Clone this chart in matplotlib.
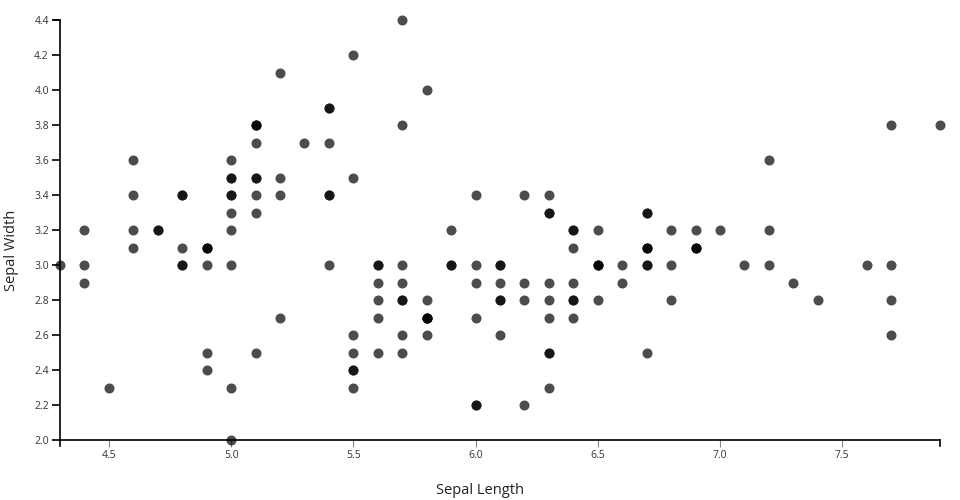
import matplotlib
matplotlib.use("Agg")
import matplotlib.pyplot as plt

plt.rcParams['font.family'] = ['Open Sans', 'DejaVu Sans']

# iris: sepal length / sepal width
sepal_length = [
    5.1, 4.9, 4.7, 4.6, 5.0, 5.4, 4.6, 5.0, 4.4, 4.9, 5.4, 4.8, 4.8, 4.3, 5.8, 5.7, 5.4, 5.1, 5.7, 5.1,
    5.4, 5.1, 4.6, 5.1, 4.8, 5.0, 5.0, 5.2, 5.2, 4.7, 4.8, 5.4, 5.2, 5.5, 4.9, 5.0, 5.5, 4.9, 4.4, 5.1,
    5.0, 4.5, 4.4, 5.0, 5.1, 4.8, 5.1, 4.6, 5.3, 5.0,
    7.0, 6.4, 6.9, 5.5, 6.5, 5.7, 6.3, 4.9, 6.6, 5.2, 5.0, 5.9, 6.0, 6.1, 5.6, 6.7, 5.6, 5.8, 6.2, 5.6,
    5.9, 6.1, 6.3, 6.1, 6.4, 6.6, 6.8, 6.7, 6.0, 5.7, 5.5, 5.5, 5.8, 6.0, 5.4, 6.0, 6.7, 6.3, 5.6, 5.5,
    5.5, 6.1, 5.8, 5.0, 5.6, 5.7, 5.7, 6.2, 5.1, 5.7,
    6.3, 5.8, 7.1, 6.3, 6.5, 7.6, 4.9, 7.3, 6.7, 7.2, 6.5, 6.4, 6.8, 5.7, 5.8, 6.4, 6.5, 7.7, 7.7, 6.0,
    6.9, 5.6, 7.7, 6.3, 6.7, 7.2, 6.2, 6.1, 6.4, 7.2, 7.4, 7.9, 6.4, 6.3, 6.1, 7.7, 6.3, 6.4, 6.0, 6.9,
    6.7, 6.9, 5.8, 6.8, 6.7, 6.7, 6.3, 6.5, 6.2, 5.9,
]
sepal_width = [
    3.5, 3.0, 3.2, 3.1, 3.6, 3.9, 3.4, 3.4, 2.9, 3.1, 3.7, 3.4, 3.0, 3.0, 4.0, 4.4, 3.9, 3.5, 3.8, 3.8,
    3.4, 3.7, 3.6, 3.3, 3.4, 3.0, 3.4, 3.5, 3.4, 3.2, 3.1, 3.4, 4.1, 4.2, 3.1, 3.2, 3.5, 3.1, 3.0, 3.4,
    3.5, 2.3, 3.2, 3.5, 3.8, 3.0, 3.8, 3.2, 3.7, 3.3,
    3.2, 3.2, 3.1, 2.3, 2.8, 2.8, 3.3, 2.4, 2.9, 2.7, 2.0, 3.0, 2.2, 2.9, 2.9, 3.1, 3.0, 2.7, 2.2, 2.5,
    3.2, 2.8, 2.5, 2.8, 2.9, 3.0, 2.8, 3.0, 2.9, 2.6, 2.4, 2.4, 2.7, 2.7, 3.0, 3.4, 3.1, 2.3, 3.0, 2.5,
    2.6, 3.0, 2.6, 2.3, 2.7, 3.0, 2.9, 2.9, 2.5, 2.8,
    3.3, 2.7, 3.0, 2.9, 3.0, 3.0, 2.5, 2.9, 2.5, 3.6, 3.2, 2.7, 3.0, 2.5, 2.8, 3.2, 3.0, 3.8, 2.6, 2.2,
    3.2, 2.8, 2.8, 2.7, 3.3, 3.2, 2.8, 3.0, 2.8, 3.0, 2.8, 3.8, 2.8, 2.8, 2.6, 3.0, 3.4, 3.1, 3.0, 3.1,
    3.1, 3.1, 2.7, 3.2, 3.3, 3.0, 2.5, 3.0, 3.4, 3.0,
]
x_ticks = [4.5, 5.0, 5.5, 6.0, 6.5, 7.0, 7.5]
y_ticks = [2.0, 2.2, 2.4, 2.6, 2.8, 3.0, 3.2, 3.4, 3.6, 3.8, 4.0, 4.2, 4.4]

fig = plt.figure(figsize=(9.6, 5), dpi=100)
ax = fig.add_axes([60 / 960, 60 / 500, 880 / 960, 420 / 500])

ax.scatter(sepal_length, sepal_width, s=52, color="black", alpha=0.7,
           linewidths=0, clip_on=False, zorder=3)

ax.set_xlim(min(sepal_length), max(sepal_length))
ax.set_ylim(min(sepal_width), max(sepal_width))
ax.set_xticks(x_ticks)
ax.set_xticklabels([f"{v:.1f}" for v in x_ticks])
ax.set_yticks(y_ticks)
ax.set_yticklabels([f"{v:.1f}" for v in y_ticks])

for side in ("top", "right"):
    ax.spines[side].set_visible(False)
for side in ("left", "bottom"):
    ax.spines[side].set_linewidth(1.2)
    ax.spines[side].set_color("black")

ax.tick_params(axis="y", length=6, width=1.2, color="black", labelsize=7.5,
               labelcolor="#333333", pad=2)
ax.tick_params(axis="x", length=5, width=0.8, color="#888888", labelsize=7.5,
               labelcolor="#333333", pad=2)

# outer end ticks at the domain ends
ax.plot([0, 0], [0, -6 / 420], transform=ax.transAxes, color="black", lw=1.2, clip_on=False)
ax.plot([1, 1], [0, -6 / 420], transform=ax.transAxes, color="black", lw=1.2, clip_on=False)
ax.plot([0, -6 / 880], [1, 1], transform=ax.transAxes, color="black", lw=1.2, clip_on=False)

fig.text(480 / 960, 1 - 490 / 500, "Sepal Length", ha="center", va="center",
         fontsize=10.5, color="#222222")
fig.text(12 / 960, 0.5, "Sepal Width", ha="center", va="center", rotation=90,
         fontsize=10.5, color="#222222")

fig.savefig("out.png", dpi=100)
